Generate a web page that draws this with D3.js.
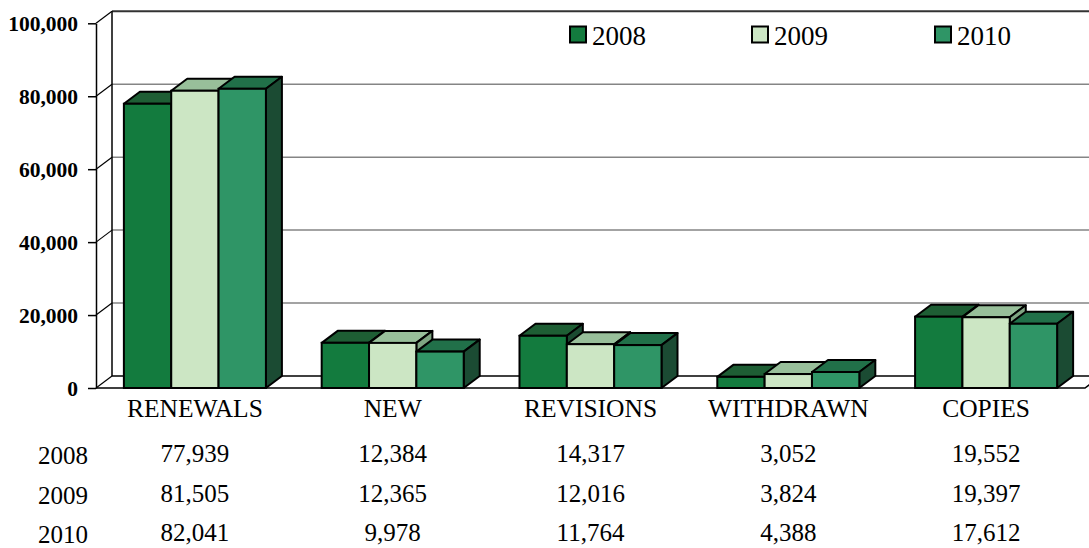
<!DOCTYPE html>
<html><head><meta charset="utf-8">
<script src="https://cdn.jsdelivr.net/npm/d3@7"></script>
<style>html,body{margin:0;padding:0;background:#fff;}svg{display:block;}</style>
</head><body>
<script>
const categories = ["RENEWALS","NEW","REVISIONS","WITHDRAWN","COPIES"];
const years = ["2008","2009","2010"];
const values2008 = [77939,12384,14317,3052,19552];
const values2009 = [81505,12365,12016,3824,19397];
const values2010 = [82041,9978,11764,4388,17612];
const yTicks = [0,20000,40000,60000,80000,100000];

const seriesValues = [values2008, values2009, values2010];
const colors = {
  "2008": {front:"#137b3e", top:"#1e5e34", side:"#1a4a30"},
  "2009": {front:"#cce6c4", top:"#98bf9a", side:"#7fa582"},
  "2010": {front:"#2f9566", top:"#217049", side:"#1b4b33"}
};

const W = 1089, H = 548;
const DX = 16, DY = -12;
const svg = d3.select("body").append("svg").attr("width", W).attr("height", H);

const x = d3.scaleBand().domain(categories).range([96, 1085]).paddingInner(0.282).paddingOuter(0.141);
const xs = d3.scaleBand().domain(years).range([0, x.bandwidth()]);
const y = d3.scaleLinear().domain([0,100000]).range([388, 23.3]);

// back wall gridlines
const wallRight = 1085 + DX;
svg.append("g").selectAll("line").data(yTicks.filter(d => d > 0 && d < 100000)).join("line")
  .attr("x1", 96 + DX).attr("x2", wallRight)
  .attr("y1", d => y(d) + DY).attr("y2", d => y(d) + DY)
  .attr("stroke", "#858585").attr("stroke-width", 1.5);
// wall top border
svg.append("line").attr("x1", 96 + DX).attr("x2", wallRight)
  .attr("y1", y(100000) + DY).attr("y2", y(100000) + DY)
  .attr("stroke", "#333").attr("stroke-width", 2);
// wall left edge
svg.append("line").attr("x1", 96 + DX).attr("x2", 96 + DX)
  .attr("y1", y(100000) + DY).attr("y2", y(0) + DY)
  .attr("stroke", "#000").attr("stroke-width", 1.5);
// floor back line
svg.append("line").attr("x1", 96 + DX).attr("x2", wallRight)
  .attr("y1", y(0) + DY).attr("y2", y(0) + DY)
  .attr("stroke", "#000").attr("stroke-width", 1.5);
// floor front line + right diagonal
svg.append("path").attr("d", `M96,${y(0)}L1085,${y(0)}L${1085+DX},${y(0)+DY}`)
  .attr("fill", "none").attr("stroke", "#000").attr("stroke-width", 1.5);
// diagonals at ticks
svg.append("g").selectAll("line").data(yTicks).join("line")
  .attr("x1", 96).attr("x2", 96 + DX)
  .attr("y1", d => y(d)).attr("y2", d => y(d) + DY)
  .attr("stroke", "#000").attr("stroke-width", 1.2);

// axis
const serif = "'Liberation Serif','Times New Roman',serif";
const axis = d3.axisLeft(y).tickValues(yTicks).tickSize(8).tickSizeOuter(0)
  .tickFormat(d => d === 0 ? "0" : d3.format(",")(d));
const ag = svg.append("g").attr("transform", "translate(96,0)").call(axis);
ag.select(".domain").attr("stroke", "#000").attr("stroke-width", 1.5);
ag.selectAll(".tick line").attr("stroke", "#000").attr("stroke-width", 1.5);
ag.selectAll(".tick text").attr("x", -18).attr("dy", "0.34em")
  .attr("font-family", serif)
  .attr("font-weight", "bold").attr("font-size", 21.5).attr("fill", "#000");

// bars
const barData = [];
categories.forEach((c, ci) => {
  years.forEach((yr, yi) => barData.push({cat: c, year: yr, value: seriesValues[yi][ci]}));
});
const bars = svg.append("g").selectAll("g").data(barData).join("g");
bars.each(function(d) {
  const g = d3.select(this);
  const x0 = x(d.cat) + xs(d.year), x1 = x0 + xs.bandwidth();
  const y0 = y(0), y1 = y(d.value);
  const c = colors[d.year];
  g.append("path").attr("d", `M${x0},${y1}L${x0+DX},${y1+DY}L${x1+DX},${y1+DY}L${x1},${y1}Z`)
    .attr("fill", c.top).attr("stroke", "#000").attr("stroke-width", 2).attr("stroke-linejoin", "round");
  g.append("path").attr("d", `M${x1},${y1}L${x1+DX},${y1+DY}L${x1+DX},${y0+DY}L${x1},${y0}Z`)
    .attr("fill", c.side).attr("stroke", "#000").attr("stroke-width", 2).attr("stroke-linejoin", "round");
  g.append("rect").attr("x", x0).attr("y", y1).attr("width", x1 - x0).attr("height", y0 - y1)
    .attr("fill", c.front).attr("stroke", "#000").attr("stroke-width", 2);
});

// category labels
svg.append("g").selectAll("text").data(categories).join("text")
  .attr("x", d => x(d) + x.bandwidth()/2).attr("y", 417)
  .attr("text-anchor", "middle").attr("font-family", serif).attr("font-size", 25.5).attr("fill", "#000")
  .text(d => d);

// legend
const legendX = [570, 752, 935];
const lg = svg.append("g").selectAll("g").data(years).join("g")
  .attr("transform", (d, i) => `translate(${legendX[i]},0)`);
lg.append("rect").attr("x", 0).attr("y", 26.5).attr("width", 16).attr("height", 16)
  .attr("fill", d => colors[d].front).attr("stroke", "#000").attr("stroke-width", 2);
lg.append("text").attr("x", 22).attr("y", 45).attr("font-family", serif).attr("font-size", 27)
  .attr("fill", "#000").text(d => d);

// data table
const rowY = [462, 502, 541];
years.forEach((yr, yi) => {
  svg.append("text").attr("x", 38).attr("y", rowY[yi] + 2).attr("font-family", serif)
    .attr("font-size", 25).attr("fill", "#000").text(yr);
  svg.append("g").selectAll("text").data(categories).join("text")
    .attr("x", d => x(d) + x.bandwidth()/2).attr("y", rowY[yi])
    .attr("text-anchor", "middle").attr("font-family", serif).attr("font-size", 25).attr("fill", "#000")
    .text((d, ci) => d3.format(",")(seriesValues[yi][ci]));
});
</script>
</body></html>
